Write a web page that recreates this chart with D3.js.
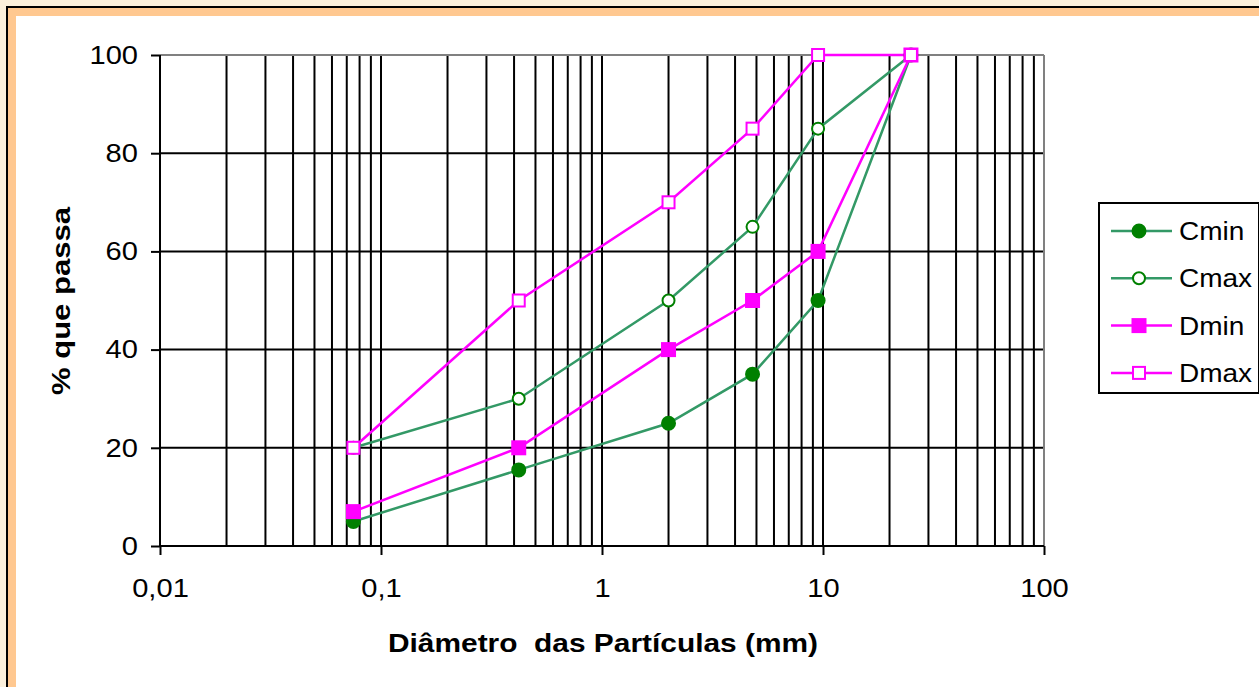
<!DOCTYPE html>
<html>
<head>
<meta charset="utf-8">
<script src="https://cdn.jsdelivr.net/npm/d3@7"></script>
<style>
  body { margin: 0; background: #fbf0dc; overflow: hidden; }
  text { font-family: "Liberation Sans", Arial, sans-serif; }
</style>
</head>
<body>
<svg id="chart" width="1259" height="687"></svg>
<script>
// sieve sizes (mm) and % passing
var diam = [0.075, 0.42, 2.0, 4.8, 9.5, 25];
var cmin = [5, 15.5, 25, 35, 50, 100];
var cmax = [20, 30, 50, 65, 85, 100];
var dmin = [7, 20, 40, 50, 60, 100];
var dmax = [20, 50, 70, 85, 100, 100];
var seriesNames = ["Cmin", "Cmax", "Dmin", "Dmax"];
var xTickVals = [0.01, 0.1, 1, 10, 100];
var xTickLabels = ["0,01", "0,1", "1", "10", "100"];
var yTickVals = [0, 20, 40, 60, 80, 100];

var svg = d3.select("#chart");
var stretch = 1.12; // the original image is a bit wider than tall

// frame
svg.append("rect").attr("x", 7).attr("y", 7).attr("width", 1400).attr("height", 900)
    .attr("fill", "#ffc890").attr("stroke", "#000").attr("stroke-width", 2);
svg.append("rect").attr("x", 16).attr("y", 16).attr("width", 1400).attr("height", 900)
    .attr("fill", "#fff");

var pLeft = 160, pRight = 1044, pTop = 55, pBottom = 546;
var x = d3.scaleLog().domain([0.01, 100]).range([pLeft, pRight]);
var y = d3.scaleLinear().domain([0, 100]).range([pBottom, pTop]);

// vertical grid at every minor value
var minors = [];
[0.01, 0.1, 1, 10].forEach(function (dec) {
    for (var k = 1; k <= 9; k++) minors.push(dec * k);
});
svg.append("g").selectAll("line").data(minors.slice(1)).enter().append("line")
    .attr("x1", function (d) { return x(d); }).attr("x2", function (d) { return x(d); })
    .attr("y1", pTop).attr("y2", pBottom)
    .attr("stroke", "#000").attr("stroke-width", 2);
// horizontal grid
svg.append("g").selectAll("line").data([20, 40, 60, 80]).enter().append("line")
    .attr("x1", pLeft).attr("x2", pRight)
    .attr("y1", function (d) { return y(d); }).attr("y2", function (d) { return y(d); })
    .attr("stroke", "#000").attr("stroke-width", 2);
// gray top / right borders
svg.append("line").attr("x1", pLeft).attr("x2", pRight).attr("y1", pTop).attr("y2", pTop)
    .attr("stroke", "#808080").attr("stroke-width", 2);
svg.append("line").attr("x1", pRight).attr("x2", pRight).attr("y1", pTop).attr("y2", pBottom)
    .attr("stroke", "#808080").attr("stroke-width", 2);

// axes
var xAxis = d3.axisBottom(x).tickValues(xTickVals)
    .tickFormat(function (d, i) { return xTickLabels[i]; }).tickSize(9).tickPadding(24);
var gx = svg.append("g").attr("transform", "translate(0," + pBottom + ")").call(xAxis);
var yAxis = d3.axisLeft(y).tickValues(yTickVals).tickSize(9).tickPadding(12);
var gy = svg.append("g").attr("transform", "translate(" + pLeft + ",0)").call(yAxis);
[gx, gy].forEach(function (g) {
    g.select(".domain").attr("stroke", "#000").attr("stroke-width", 2);
    g.selectAll(".tick line").attr("stroke", "#000").attr("stroke-width", 2);
    g.selectAll(".tick text").attr("fill", "#000").style("font-size", "26px")
        .style("font-family", "'Liberation Sans', Arial, sans-serif");
});
gx.selectAll(".tick text").attr("transform", "scale(" + stretch + ",1)");
gy.selectAll(".tick text").attr("transform", "scale(" + stretch + ",1)")
    .attr("x", -22 / stretch);
gx.select(".domain").attr("d", "M" + pLeft + ",0H" + pRight);
gy.select(".domain").attr("d", "M0," + pBottom + "V" + pTop);

// titles
svg.append("text").attr("x", 603).attr("y", 652).attr("text-anchor", "middle")
    .style("font-size", "26px").style("font-weight", "bold").style("white-space", "pre")
    .attr("textLength", 430).attr("lengthAdjust", "spacingAndGlyphs")
    .text("Diâmetro  das Partículas (mm)");
svg.append("text").attr("transform", "translate(70,301) rotate(-90)").attr("text-anchor", "middle")
    .style("font-size", "26px").style("font-weight", "bold")
    .attr("textLength", 188).attr("lengthAdjust", "spacingAndGlyphs")
    .text("% que passa");

var series = [
    { name: "Cmin", vals: cmin, line: "#339966", mark: "#008000", shape: "circle", filled: true },
    { name: "Cmax", vals: cmax, line: "#339966", mark: "#008000", shape: "circle", filled: false },
    { name: "Dmin", vals: dmin, line: "#ff00ff", mark: "#ff00ff", shape: "square", filled: true },
    { name: "Dmax", vals: dmax, line: "#ff00ff", mark: "#ff00ff", shape: "square", filled: false }
];

var line = d3.line().x(function (d) { return x(d[0]); }).y(function (d) { return y(d[1]); });

function drawMarker(g, cx, cy, s) {
    if (s.shape === "circle") {
        var r = s.filled ? 6.5 : 6;
        g.append("circle").attr("cx", cx).attr("cy", cy).attr("r", r)
            .attr("fill", s.filled ? s.mark : "#fff").attr("stroke", s.mark).attr("stroke-width", 2);
    } else {
        var h = s.filled ? 6.5 : 6;
        g.append("rect").attr("x", cx - h).attr("y", cy - h).attr("width", 2 * h).attr("height", 2 * h)
            .attr("fill", s.filled ? s.mark : "#fff").attr("stroke", s.mark).attr("stroke-width", 2);
    }
}

series.forEach(function (s) {
    var pts = diam.map(function (d, i) { return [d, s.vals[i]]; });
    svg.append("path").datum(pts).attr("d", line).attr("fill", "none")
        .attr("stroke", s.line).attr("stroke-width", 2.5);
});
series.forEach(function (s) {
    var g = svg.append("g");
    diam.forEach(function (d, i) { drawMarker(g, x(d), y(s.vals[i]), s); });
});

// legend
svg.append("rect").attr("x", 1099).attr("y", 203).attr("width", 160).attr("height", 190)
    .attr("fill", "#fff").attr("stroke", "#000").attr("stroke-width", 2);
series.forEach(function (s, i) {
    var ly = 231 + i * 47.3;
    var g = svg.append("g");
    g.append("line").attr("x1", 1111).attr("x2", 1172).attr("y1", ly).attr("y2", ly)
        .attr("stroke", s.line).attr("stroke-width", 2.5);
    drawMarker(g, 1139, ly, s);
    g.append("text").attr("transform", "translate(1179," + (ly + 9) + ") scale(" + stretch + ",1)")
        .style("font-size", "25px").text(s.name);
});
</script>
</body>
</html>
